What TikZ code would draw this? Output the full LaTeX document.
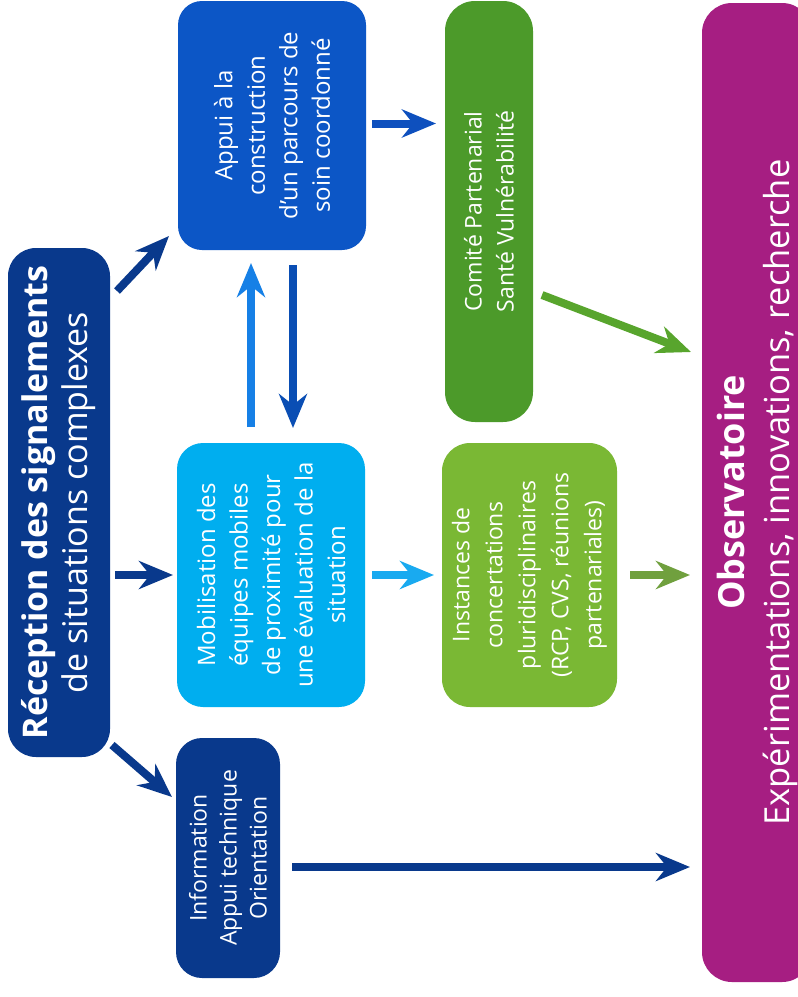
\documentclass[tikz,border=0pt]{standalone}
\usepackage{fontspec}
\setmainfont{Open Sans}
\usetikzlibrary{arrows.meta,calc}
\definecolor{navy}{RGB}{9,57,140}
\definecolor{appuiblue}{RGB}{12,86,198}
\definecolor{cyanbox}{RGB}{0,174,239}
\definecolor{greendark}{RGB}{76,154,42}
\definecolor{greenlight}{RGB}{122,184,52}
\definecolor{purplebox}{RGB}{166,30,130}
\definecolor{uparrow}{RGB}{22,128,230}
\definecolor{downarrow}{RGB}{10,78,180}
\definecolor{comarrow}{RGB}{14,80,190}
\definecolor{mobarrow}{RGB}{25,170,240}
\definecolor{instarrow}{RGB}{112,160,62}
\definecolor{comitearrow}{RGB}{88,165,45}
\begin{document}
\begin{tikzpicture}[x=1pt,y=-1pt,
  box/.style={draw=none, inner sep=0pt, outer sep=0pt, shape=rectangle},
  lbl/.style={rotate=90, text=white, align=center, inner sep=0pt,
    font=\fontsize{24}{32.5}\selectfont},
  arr/.style={line width=8pt, -{Stealth[length=34pt,width=28pt,inset=11pt]}}]
\useasboundingbox (0,0) rectangle (798,997);
\clip (0,0) rectangle (798,997);
\fill[white] (0,0) rectangle (798,997);

% boxes
\node[box, fill=navy, rounded corners=28pt, minimum width=102pt, minimum height=509pt,
  label={[lbl, font=\fontsize{34}{40}\selectfont]center:{{\bfseries Réception des signalements}\\de situations complexes}}]
  (rec) at (59,502.5) {};
\node[box, fill=appuiblue, rounded corners=24pt, minimum width=188pt, minimum height=249pt,
  label={[lbl]center:{Appui à la\\construction\\d’un parcours de\\soin coordonné}}]
  (appui) at (272,125.5) {};
\node[box, fill=greendark, rounded corners=30pt, minimum width=88pt, minimum height=421pt,
  label={[lbl, font=\fontsize{23}{32}\selectfont]center:{Comité Partenarial\\Santé Vulnérabilité}}]
  (comite) at (489,211.5) {};
\node[box, fill=cyanbox, rounded corners=26pt, minimum width=188pt, minimum height=264pt,
  label={[lbl]center:{Mobilisation des\\équipes mobiles\\de proximité pour\\une évaluation de la\\situation}}]
  (mob) at (271,575) {};
\node[box, fill=greenlight, rounded corners=28pt, minimum width=175pt, minimum height=264pt,
  label={[lbl, font=\fontsize{23}{33}\selectfont]center:{Instances de\\concertations\\pluridisciplinaires\\(RCP, CVS, réunions\\partenariales)}}]
  (inst) at (529.5,575) {};
\node[box, fill=navy, rounded corners=26pt, minimum width=104pt, minimum height=240pt,
  label={[lbl, font=\fontsize{23}{30}\selectfont]center:{Information\\Appui technique\\Orientation}}]
  (info) at (228,858) {};
\node[box, fill=purplebox, rounded corners=30pt, minimum width=110pt, minimum height=979pt,
  label={[lbl, font=\fontsize{34.5}{45}\selectfont]center:{{\fontsize{36}{45}\selectfont\bfseries Observatoire}\\Expérimentations, innovations, recherche}}]
  (obs) at (757,492.5) {};

% connectors
\draw[arr, navy] ($(rec.north east)+(7,43)$) -- ($(appui.south west)+(-9,-14)$);
\draw[arr, navy] ($(rec.east |- mob.west)+(5,0)$) -- ($(mob.west)+(-4,0)$);
\draw[arr, navy] ($(rec.south east)+(2,-12)$) -- ($(info.north west)+(-4,59)$);
\draw[arr, comarrow] ($(appui.east)+(6,-2)$) -- ($(comite.west |- appui.east)+(-9,-2)$);
\draw[arr, uparrow] ($(mob.north)+(-20,-16)$) -- ($(appui.south)+(-21,13)$);
\draw[arr, downarrow] ($(appui.south)+(21,15)$) -- ($(mob.north)+(22,-15)$);
\draw[arr, mobarrow] ($(mob.east)+(7,0)$) -- ($(inst.west)+(-8,0)$);
\draw[arr, comitearrow] ($(comite.east)+(9,83.5)$) -- ($(obs.west)+(-11,-140.5)$);
\draw[arr, instarrow] ($(inst.east)+(13,0)$) -- ($(obs.west |- inst.east)+(-12,0)$);
\draw[arr, navy] ($(info.east)+(12,9)$) -- ($(obs.west |- info.east)+(-12,9)$);
\end{tikzpicture}
\end{document}
